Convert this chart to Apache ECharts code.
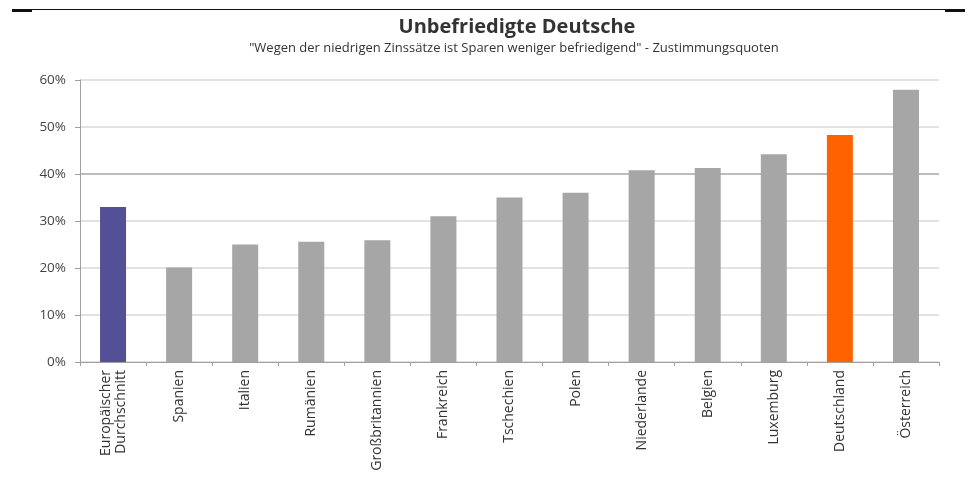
<!DOCTYPE html>
<html>
<head>
<meta charset="utf-8">
<script src="https://cdn.jsdelivr.net/npm/echarts@6/dist/echarts.min.js"></script>
<style>
  html, body { margin: 0; padding: 0; background: #fff; }
  #chart { width: 968px; height: 477px; }
</style>
</head>
<body>
<div id="chart"></div>
<script>
var countries = ['Europäischer\nDurchschnitt', 'Spanien', 'Italien', 'Rumänien', 'Großbritannien',
  'Frankreich', 'Tschechien', 'Polen', 'Niederlande', 'Belgien', 'Luxemburg', 'Deutschland', 'Österreich'];
var quote = [33.0, 20.1, 25.0, 25.6, 25.9, 31.0, 35.0, 36.0, 40.8, 41.3, 44.2, 48.3, 57.9];
var yTicks = [0, 10, 20, 30, 40, 50, 60];

var titleText = 'Unbefriedigte Deutsche';
var subText = '"Wegen der niedrigen Zinssätze ist Sparen weniger befriedigend" - Zustimmungsquoten';

// farbe je balken: durchschnitt lila, deutschland orange, rest grau
function barColor(name) {
  if (name.indexOf('Durchschnitt') >= 0) return '#535096';
  if (name == 'Deutschland') return '#ff6200';
  return '#a6a6a6';
}

var font = '"Open Sans", "Noto Sans", sans-serif';
var chart = echarts.init(document.getElementById('chart'));

var option = {
  animation: false,
  textStyle: { fontFamily: font },
  graphic: [
    { type: 'line', shape: { x1: 12, y1: 9.5, x2: 962, y2: 9.5 }, style: { stroke: '#111', lineWidth: 1 } },
    { type: 'rect', shape: { x: 12, y: 9, width: 20, height: 3 }, style: { fill: '#111' } },
    { type: 'rect', shape: { x: 945, y: 9, width: 20, height: 3 }, style: { fill: '#111' } },
    { type: 'text', x: 517, y: 27, style: { text: titleText, fontFamily: font, fontSize: 20, fontWeight: 'bold',
        fill: '#333', textAlign: 'center', textVerticalAlign: 'middle' } },
    { type: 'text', x: 514, y: 48, style: { text: subText, fontFamily: font, fontSize: 13,
        fill: '#333', textAlign: 'center', textVerticalAlign: 'middle' } }
  ],
  grid: { left: 80, right: 29, top: 80, bottom: 115 },
  xAxis: {
    type: 'category',
    data: countries,
    axisLine: { lineStyle: { color: '#a0a0a0', width: 1 } },
    axisTick: { show: true, length: 4, lineStyle: { color: '#a0a0a0' } },
    axisLabel: { rotate: 90, margin: 8, fontSize: 14, color: '#333', fontFamily: font, lineHeight: 15 }
  },
  yAxis: {
    type: 'value',
    min: yTicks[0],
    max: yTicks[yTicks.length - 1],
    interval: 10,
    axisLine: { show: true, lineStyle: { color: '#a0a0a0' } },
    axisTick: { show: true, length: 5, lineStyle: { color: '#a0a0a0' } },
    axisLabel: { formatter: '{value}%', fontSize: 13.5, color: '#444', margin: 14, fontFamily: font },
    splitLine: { lineStyle: { color: ['#d9d9d9', '#d9d9d9', '#d9d9d9', '#d9d9d9', '#a6a6a6', '#d9d9d9', '#d9d9d9'], width: 1.5 } }
  },
  series: [{
    type: 'bar',
    barWidth: 26,
    data: quote.map(function (v, i) {
      return { value: v, itemStyle: { color: barColor(countries[i]) } };
    })
  }]
};
chart.setOption(option);
</script>
</body>
</html>
